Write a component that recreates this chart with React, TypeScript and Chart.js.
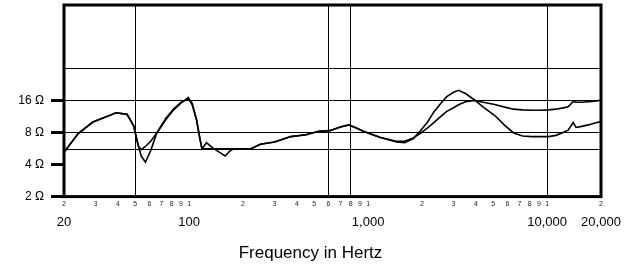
import React, { useEffect, useRef } from "react";
import { Chart, registerables } from "chart.js";

Chart.register(...registerables);

const FONT = "'Liberation Sans', Arial, Helvetica, sans-serif";

// Frequencies (Hz) at which the two impedance traces were read
const frequencies = [
  20, 24, 29, 35, 39, 45, 49, 52, 54, 57, 61, 66, 74, 82, 90, 99, 104, 110, 115, 118,
  125, 136, 148, 159, 168, 177, 200, 220, 250, 300, 370, 450, 530, 610, 700, 780, 860,
  940, 1160, 1440, 1600, 1790, 1950, 2150, 2320, 2550, 2750, 3000, 3200, 3500, 3950,
  4400, 5100, 5800, 6500, 7300, 8200, 9200, 10200, 11200, 12100, 13100, 14000, 14500,
  15600, 17000, 18500, 20000,
];

// Trace A (deeper bass dip, higher 3 kHz peak, lower treble)
const impedanceA = [
  5.2, 7.8, 10.0, 11.3, 12.2, 11.8, 9.2, 6.0, 4.8, 4.2, 5.4, 7.9, 10.5, 13.0, 15.0, 17.0,
  14.5, 10.5, 6.9, 5.6, 6.4, 5.7, 5.2, 4.8, 5.3, 5.6, 5.6, 5.6, 6.2, 6.5, 7.3, 7.6, 8.2,
  8.3, 9.0, 9.4, 8.8, 8.2, 7.2, 6.5, 6.4, 7.0, 8.2, 10.0, 12.3, 15.0, 17.3, 19.0, 19.8,
  18.5, 16.0, 13.8, 11.5, 9.3, 7.9, 7.4, 7.3, 7.3, 7.3, 7.5, 7.9, 8.4, 9.9, 8.9, 9.1,
  9.4, 9.8, 10.1,
];

// Trace B
const impedanceB = [
  5.2, 7.8, 10.0, 11.3, 12.2, 11.8, 9.2, 6.0, 5.5, 5.9, 6.6, 7.9, 10.8, 13.3, 15.3, 16.4,
  15.0, 10.5, 6.9, 5.6, 5.6, 5.6, 5.6, 5.6, 5.6, 5.6, 5.6, 5.6, 6.2, 6.5, 7.3, 7.6, 8.2,
  8.3, 9.0, 9.4, 8.8, 8.2, 7.2, 6.6, 6.6, 7.1, 7.8, 8.8, 9.8, 11.3, 12.6, 13.6, 14.5,
  15.5, 15.9, 15.3, 14.6, 13.8, 13.2, 13.0, 12.9, 12.9, 13.0, 13.2, 13.5, 13.9, 15.6,
  15.3, 15.3, 15.5, 15.7, 16.0,
];

const minorTicks = [
  20, 30, 40, 50, 60, 70, 80, 90, 100, 200, 300, 400, 500, 600, 700, 800, 900, 1000,
  2000, 3000, 4000, 5000, 6000, 7000, 8000, 9000, 10000, 20000,
];
const majorTicks = [20, 100, 1000, 10000, 20000];
const majorLabels = ["20", "100", "1,000", "10,000", "20,000"];
const freqGridLines = [50, 600, 800, 10000];

const impedanceTicks = [2, 4, 5.5, 8, 16, 32, 125];
const impedanceLabelValues = [2, 4, 8, 16];
const impedanceLabels = ["2 Ω", "4 Ω", "8 Ω", "16 Ω"];
const impedanceGridLines = [5.5, 8, 16, 32];

const xTitle = "Frequency in Hertz";

const framePlugin = {
  id: "frame",
  afterDraw(chart: any) {
    const { ctx, chartArea: a } = chart;
    ctx.save();
    ctx.strokeStyle = "#000";
    ctx.lineWidth = 3;
    ctx.strokeRect(a.left, a.top, a.right - a.left, a.bottom - a.top);
    ctx.restore();
  },
};

const near = (list: number[], v: number) => list.some((t) => Math.abs(t - v) / t < 1e-6);

export default function App() {
  const ref = useRef<HTMLCanvasElement | null>(null);

  useEffect(() => {
    if (!ref.current) return;
    const chart = new Chart(ref.current, {
      type: "line",
      data: {
        datasets: [
          {
            label: "A",
            data: frequencies.map((f, i) => ({ x: f, y: impedanceA[i] })),
            borderColor: "#000",
            borderWidth: 1.6,
            pointRadius: 0,
            tension: 0,
          },
          {
            label: "B",
            data: frequencies.map((f, i) => ({ x: f, y: impedanceB[i] })),
            borderColor: "#000",
            borderWidth: 1.6,
            pointRadius: 0,
            tension: 0,
          },
        ],
      },
      options: {
        animation: false,
        responsive: true,
        maintainAspectRatio: false,
        layout: { padding: { top: 5, right: 14, left: 0, bottom: 0 } },
        plugins: {
          legend: { display: false },
          tooltip: { enabled: false },
          title: {
            display: true,
            position: "bottom",
            text: xTitle,
            color: "#000",
            font: { family: FONT, size: 17, weight: "normal" },
            padding: { top: 0, bottom: 0 },
          },
        },
        scales: {
          x: {
            type: "logarithmic",
            position: "bottom",
            weight: 0,
            min: 20,
            max: 20000,
            afterBuildTicks: (s: any) => {
              s.ticks = minorTicks.map((v) => ({ value: v }));
            },
            afterFit: (s: any) => {
              s.height = 12;
              s.paddingLeft = 0;
              s.paddingRight = 0;
            },
            ticks: {
              autoSkip: false,
              maxRotation: 0,
              minRotation: 0,
              padding: 3,
              color: "#222",
              font: { family: FONT, size: 7 },
              callback: (v: any) => {
                const n = Number(v);
                return String(Math.round(n / Math.pow(10, Math.floor(Math.log10(n) + 1e-9))));
              },
            },
            grid: {
              drawTicks: false,
              lineWidth: 1,
              color: (c: any) =>
                c.tick && near(freqGridLines, c.tick.value) ? "#000" : "rgba(0,0,0,0)",
            },
            border: { display: false },
          },
          x2: {
            type: "logarithmic",
            position: "bottom",
            weight: 1,
            min: 20,
            max: 20000,
            afterBuildTicks: (s: any) => {
              s.ticks = majorTicks.map((v) => ({ value: v }));
            },
            afterFit: (s: any) => {
              s.height = 35;
              s.paddingLeft = 0;
              s.paddingRight = 0;
            },
            ticks: {
              autoSkip: false,
              maxRotation: 0,
              minRotation: 0,
              padding: 6,
              color: "#000",
              font: { family: FONT, size: 13 },
              callback: (v: any) => {
                const i = majorTicks.findIndex((t) => Math.abs(t - Number(v)) < 1e-6);
                return i >= 0 ? majorLabels[i] : "";
              },
            },
            grid: { display: false, drawTicks: false },
            border: { display: false },
          },
          y: {
            type: "logarithmic",
            position: "left",
            min: 2,
            max: 125,
            afterBuildTicks: (s: any) => {
              s.ticks = impedanceTicks.map((v) => ({ value: v }));
            },
            afterFit: (s: any) => {
              s.width = 64;
              s.paddingTop = 0;
              s.paddingBottom = 0;
            },
            ticks: {
              autoSkip: false,
              padding: 7,
              color: "#000",
              font: { family: FONT, size: 12 },
              callback: (v: any) => {
                const i = impedanceLabelValues.findIndex((t) => Math.abs(t - Number(v)) < 1e-6);
                return i >= 0 ? impedanceLabels[i] : "";
              },
            },
            grid: {
              drawTicks: true,
              tickLength: 13,
              tickWidth: 3,
              lineWidth: 1,
              tickColor: (c: any) =>
                c.tick && near(impedanceLabelValues, c.tick.value) ? "#000" : "rgba(0,0,0,0)",
              color: (c: any) =>
                c.tick && near(impedanceGridLines, c.tick.value) ? "#000" : "rgba(0,0,0,0)",
            },
            border: { display: false },
          },
          yPad: {
            type: "linear",
            position: "right",
            display: true,
            afterFit: (s: any) => {
              s.width = 20;
              s.paddingTop = 0;
              s.paddingBottom = 0;
            },
            ticks: { display: false },
            grid: { display: false, drawTicks: false },
            border: { display: false },
          },
        },
      },
      plugins: [framePlugin],
    } as any);
    return () => chart.destroy();
  }, []);

  return (
    <div
      style={{
        position: "fixed",
        left: 0,
        top: 0,
        width: 635,
        height: 264,
        background: "#fff",
      }}
    >
      <canvas ref={ref} />
    </div>
  );
}
